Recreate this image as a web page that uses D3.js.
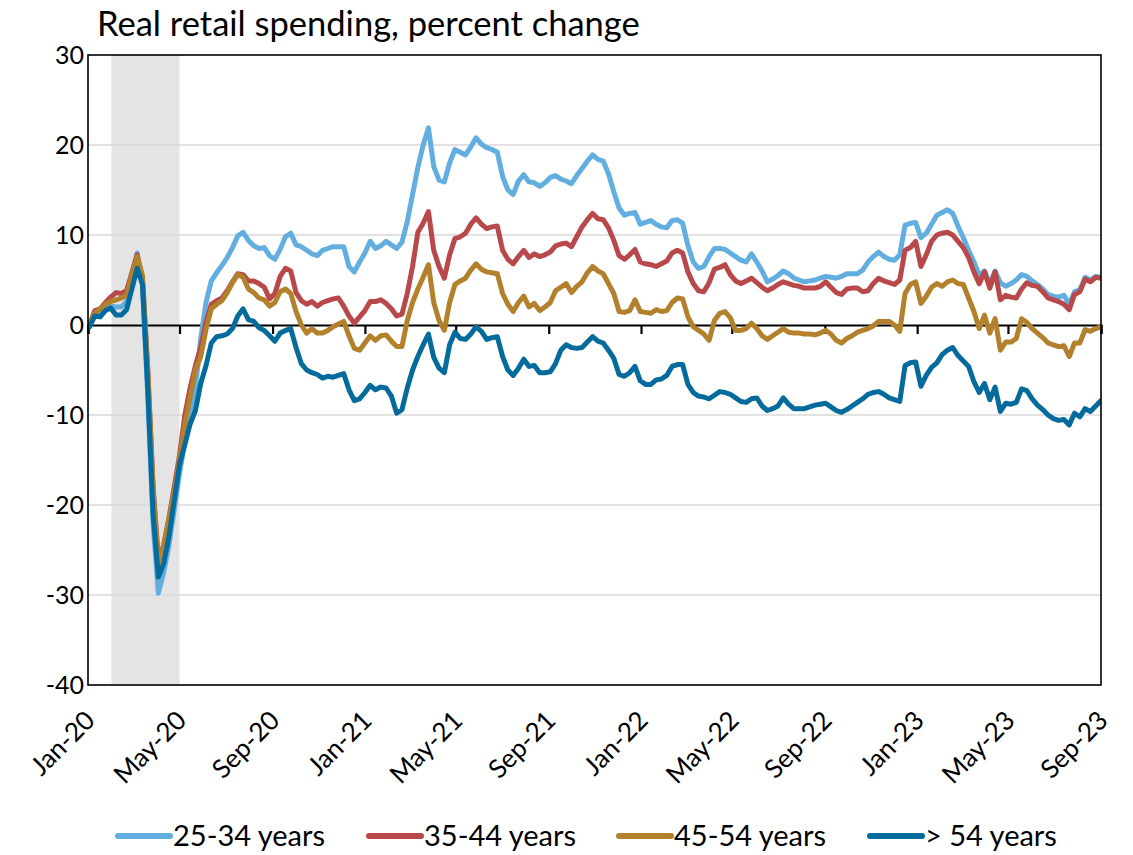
<!DOCTYPE html>
<html><head><meta charset="utf-8">
<script src="https://cdn.jsdelivr.net/npm/d3@7"></script>
<style>body{margin:0;background:#fff}</style>
</head><body>
<svg id="c" width="1133" height="855"></svg>
<script>
// ---- data (weekly, first week ending 2020-01-03) ----
const firstWeek = "2020-01-03";
const seriesNames = ["25-34 years", "35-44 years", "45-54 years", "> 54 years"];
const seriesColors = ["#62aee0", "#b8484a", "#b3802c", "#056b9c"];

const age25_34 = [
0.0,1.2,1.0,1.8,2.1,2.0,2.0,2.6,5.5,8.0,
4.5,-8,-22,-29.8,-27.5,-24.5,-20.5,-16.5,-13,-10,
-7,-1.5,2.5,4.9,5.8,6.6,7.5,8.6,9.9,10.3,
9.4,8.8,8.5,8.6,7.7,7.3,8.4,9.8,10.2,8.9,
8.7,8.3,7.9,7.7,8.3,8.5,8.7,8.7,8.7,6.5,
5.9,7.0,8.0,9.3,8.5,8.8,9.3,8.9,8.5,9.2,
11.5,14.5,17.5,20.0,21.9,17.6,16.1,15.9,18.0,19.5,
19.2,18.9,19.8,20.8,20.1,19.7,19.5,19.2,16.5,15.0,
14.5,16.0,16.7,15.9,15.8,15.4,15.8,16.4,16.6,16.2,
16.0,15.7,16.6,17.4,18.2,18.9,18.4,18.2,16.8,14.8,
13.0,12.2,12.4,12.5,11.2,11.4,11.6,11.2,10.9,10.8,
11.6,11.7,11.3,8.8,7.0,6.3,6.5,7.6,8.5,8.5,
8.4,8.0,7.6,7.2,7.0,7.9,7.0,6.0,4.8,5.1,
5.5,6.0,5.7,5.2,5.0,4.8,4.9,5.0,5.2,5.4,
5.3,5.2,5.4,5.7,5.7,5.7,6.1,7.0,7.6,8.1,
7.6,7.3,7.2,7.8,11.1,11.3,11.4,9.7,10.2,11.2,
12.2,12.5,12.8,12.4,11.0,9.7,8.3,7.0,5.5,6.0,
4.6,6.0,4.7,4.3,4.6,5.0,5.6,5.4,4.9,4.5,
4.0,3.4,3.2,3.1,3.3,2.3,3.7,3.9,5.3,5.0,
5.4,5.3];

const age35_44 = [
0.0,1.6,1.8,2.5,3.1,3.6,3.5,3.8,5.8,7.8,
5.0,-5,-18,-26,-24.5,-21.5,-18,-14.5,-10,-7,
-4.5,-2.5,0.3,2.3,2.7,3.0,3.8,4.8,5.7,5.6,
4.9,4.9,4.6,4.2,2.9,3.5,5.4,6.3,6.0,3.6,
2.7,2.3,2.6,2.1,2.5,2.7,2.9,3.0,2.1,1.0,
0.2,0.9,1.6,2.6,2.6,2.8,2.4,1.8,1.0,1.2,
3.5,6.5,10.3,11.3,12.6,8.3,6.5,5.2,7.8,9.6,
9.8,10.2,11.2,11.9,11.2,10.7,10.9,11.0,8.3,7.3,
6.8,7.6,8.3,7.5,7.9,7.6,7.8,8.1,8.8,9.0,
9.1,8.7,9.8,10.9,11.7,12.4,11.8,11.7,10.8,9.4,
7.7,7.3,7.8,8.4,7.0,6.8,6.7,6.5,6.8,7.1,
8.0,8.3,8.0,5.9,4.6,3.8,3.7,4.7,6.2,6.4,
6.7,5.6,4.9,4.6,4.9,5.2,4.7,4.2,3.8,4.1,
4.5,4.8,4.6,4.4,4.3,4.1,4.1,4.1,4.3,4.8,
4.2,3.6,3.4,4.0,4.1,4.1,3.7,3.8,4.6,5.2,
4.9,4.7,4.5,5.0,8.3,8.6,9.3,6.5,7.8,9.3,
10.0,10.2,10.3,10.0,9.3,8.6,7.5,5.9,4.6,5.9,
4.1,5.9,2.8,3.3,3.1,3.0,4.0,4.7,4.4,4.3,
3.7,3.0,2.8,2.6,2.3,1.7,3.4,3.7,5.1,4.8,
5.3,5.2];

const age45_54 = [
0.0,1.3,1.8,2.3,2.6,2.8,3.0,3.3,5.6,7.6,
5.5,-5,-18,-26.5,-24.5,-21.5,-18.5,-15,-11,-8,
-5,-3.5,-0.5,1.8,2.3,2.7,3.6,4.7,5.6,5.3,
4.0,3.6,3.0,2.8,2.1,2.5,3.7,4.0,3.5,1.5,
0.0,-0.9,-0.4,-0.9,-0.9,-0.6,-0.2,0.1,0.4,-1.2,
-2.6,-2.8,-2.0,-1.2,-1.7,-1.2,-1.1,-1.8,-2.4,-2.4,
0.5,2.5,4.0,5.3,6.7,2.5,0.5,-0.6,2.5,4.5,
4.9,5.2,6.1,6.8,6.2,5.9,5.8,5.7,3.5,2.3,
1.5,2.5,3.2,2.0,2.4,1.6,2.0,2.5,3.8,4.2,
4.6,3.6,4.3,4.8,5.8,6.5,6.0,5.7,4.6,3.5,
1.5,1.4,1.6,2.8,1.5,1.4,1.3,1.7,1.5,1.6,
2.5,3.0,2.9,0.9,-0.2,-0.6,-1.0,-1.7,0.5,1.3,
1.5,0.8,-0.6,-0.6,-0.4,0.2,-0.4,-1.2,-1.6,-1.2,
-0.8,-0.4,-0.8,-0.9,-0.9,-1.0,-1.0,-1.1,-0.9,-0.6,
-1.0,-1.7,-2.0,-1.5,-1.2,-0.8,-0.6,-0.4,-0.1,0.4,
0.4,0.4,0.0,-0.7,3.5,4.5,4.8,2.4,3.2,4.2,
4.6,4.3,4.8,5.0,4.6,4.5,3.0,1.5,-0.4,1.1,
-0.9,0.7,-2.8,-1.9,-1.9,-1.5,0.7,0.3,-0.4,-0.9,
-1.4,-2.0,-2.2,-2.4,-2.3,-3.5,-2.0,-2.0,-0.5,-0.7,
-0.4,-0.2];

const age55plus = [
-0.2,1.0,0.9,1.6,1.9,1.1,1.1,1.7,4.0,6.3,
4.5,-7,-21,-28.0,-26.5,-23.5,-19.5,-15.5,-13.3,-11,
-9.5,-6.5,-4.5,-2.0,-1.3,-1.2,-1.0,-0.4,1.0,1.8,
0.6,0.4,-0.3,-0.6,-1.2,-1.8,-0.9,-0.6,-0.4,-2.5,
-4.3,-5.0,-5.3,-5.5,-5.9,-5.7,-5.8,-5.6,-5.4,-7.2,
-8.4,-8.2,-7.5,-6.7,-7.2,-6.9,-7.0,-7.9,-9.8,-9.4,
-7.0,-5.0,-3.5,-2.2,-1.0,-3.6,-4.8,-5.3,-2.2,-0.8,
-1.5,-1.6,-1.0,-0.2,-0.7,-1.6,-1.4,-1.3,-3.5,-5.0,
-5.6,-4.8,-3.8,-4.6,-4.5,-5.3,-5.3,-5.2,-4.3,-2.8,
-2.2,-2.5,-2.6,-2.5,-1.9,-1.3,-1.8,-2.0,-2.8,-3.7,
-5.5,-5.7,-5.3,-4.6,-6.2,-6.6,-6.6,-6.1,-6.0,-5.6,
-4.6,-4.4,-4.4,-6.6,-7.5,-7.9,-8.0,-8.2,-7.8,-7.4,
-7.5,-7.7,-8.1,-8.5,-8.6,-8.2,-8.1,-9.0,-9.5,-9.3,
-9.0,-8.1,-8.8,-9.3,-9.3,-9.3,-9.1,-8.9,-8.8,-8.7,
-9.1,-9.5,-9.7,-9.4,-9.0,-8.6,-8.2,-7.7,-7.5,-7.4,
-7.7,-8.1,-8.3,-8.5,-4.5,-4.2,-4.1,-6.8,-5.6,-4.7,
-4.2,-3.3,-2.8,-2.5,-3.4,-4.0,-4.6,-6.3,-7.5,-6.5,
-8.3,-6.9,-9.6,-8.7,-8.8,-8.6,-7.1,-7.3,-8.2,-8.9,
-9.4,-10.0,-10.4,-10.6,-10.5,-11.1,-9.8,-10.2,-9.3,-9.6,
-9.0,-8.4];

const xTickDates = ["2020-01-01","2020-05-01","2020-09-01","2021-01-01","2021-05-01","2021-09-01",
  "2022-01-01","2022-05-01","2022-09-01","2023-01-01","2023-05-01","2023-09-01"];
const xTickLabels = ["Jan-20","May-20","Sep-20","Jan-21","May-21","Sep-21",
  "Jan-22","May-22","Sep-22","Jan-23","May-23","Sep-23"];
const yTicks = [30, 20, 10, 0, -10, -20, -30, -40];
const recession = ["2020-02-01", "2020-05-01"];
const titleText = "Real retail spending, percent change";

// ---- drawing ----
const parse = d3.timeParse("%Y-%m-%d");
const allSeries = [age25_34, age35_44, age45_54, age55plus];
const start = parse(firstWeek);
const dates = age25_34.map((_, i) => d3.timeDay.offset(start, 7 * i));

const svg = d3.select("#c");
const L = 88, R = 1101, T = 55, B = 685;
const font = "Lato, 'Open Sans', sans-serif";

const x = d3.scaleTime().domain([parse("2020-01-01"), parse("2023-09-01")]).range([L, R]);
const y = d3.scaleLinear().domain([-40, 30]).range([B, T]);

// recession shading
svg.append("rect")
  .attr("x", x(parse(recession[0]))).attr("y", T)
  .attr("width", x(parse(recession[1])) - x(parse(recession[0])))
  .attr("height", B - T).attr("fill", "#e4e4e4");

// gridlines
svg.append("g").selectAll("line").data(yTicks.filter(v => v !== 0 && v !== 30 && v !== -40)).join("line")
  .attr("x1", L).attr("x2", R).attr("y1", d => y(d)).attr("y2", d => y(d))
  .attr("stroke", "#d9d9d9").attr("stroke-width", 1.5);

// y axis labels (hyphen-minus as in the original)
const yAxis = svg.append("g").attr("transform", `translate(${L},0)`)
  .call(d3.axisLeft(y).tickValues(yTicks).tickSize(0).tickPadding(4).tickFormat(d => String(d)));
yAxis.select(".domain").remove();
yAxis.selectAll("text").attr("font-family", font).attr("font-size", 25).attr("fill", "#000");

// zero line with ticks
const zAxis = svg.append("g").attr("transform", `translate(0,${y(0)})`)
  .call(d3.axisBottom(x).tickValues(xTickDates.map(parse)).tickSize(9).tickFormat(""));
zAxis.select(".domain").attr("stroke", "#000").attr("stroke-width", 2.2);
zAxis.selectAll(".tick line").attr("stroke", "#000").attr("stroke-width", 2.2);

// x labels
const xAxis = svg.append("g").attr("transform", `translate(0,${B})`)
  .call(d3.axisBottom(x).tickValues(xTickDates.map(parse)).tickSize(0)
    .tickFormat((d, i) => xTickLabels[i]));
xAxis.select(".domain").remove();
xAxis.selectAll("text")
  .attr("font-family", font).attr("font-size", 26).attr("fill", "#000")
  .attr("text-anchor", "end").attr("dy", 0).attr("y", 0)
  .attr("transform", "translate(8,37) rotate(-45)");

// lines
svg.append("defs").append("clipPath").attr("id", "clip")
  .append("rect").attr("x", L).attr("y", T).attr("width", R - L).attr("height", B - T);
const line = d3.line().x((d, i) => x(dates[i])).y(d => y(d));
svg.append("g").attr("clip-path", "url(#clip)")
  .selectAll("path").data(allSeries).join("path")
  .attr("d", line).attr("fill", "none")
  .attr("stroke", (d, i) => seriesColors[i]).attr("stroke-width", 5)
  .attr("stroke-linejoin", "round").attr("stroke-linecap", "round");

// frame
svg.append("rect").attr("x", L).attr("y", T).attr("width", R - L).attr("height", B - T)
  .attr("fill", "none").attr("stroke", "#000").attr("stroke-width", 1.6);

// title
svg.append("text").attr("x", 97).attr("y", 36).text(titleText)
  .attr("font-family", font).attr("font-size", 34.5).attr("fill", "#000");

// legend
const legX = [114, 365, 615, 866];
const lg = svg.append("g").selectAll("g").data(seriesNames).join("g")
  .attr("transform", (d, i) => `translate(${legX[i]},836)`);
lg.append("line").attr("x1", 4).attr("x2", 56).attr("y1", 0).attr("y2", 0)
  .attr("stroke", (d, i) => seriesColors[i]).attr("stroke-width", 6).attr("stroke-linecap", "round");
lg.append("text").attr("x", 59).attr("y", 10).text(d => d)
  .attr("font-family", font).attr("font-size", 29).attr("fill", "#000");
</script>
</body></html>
